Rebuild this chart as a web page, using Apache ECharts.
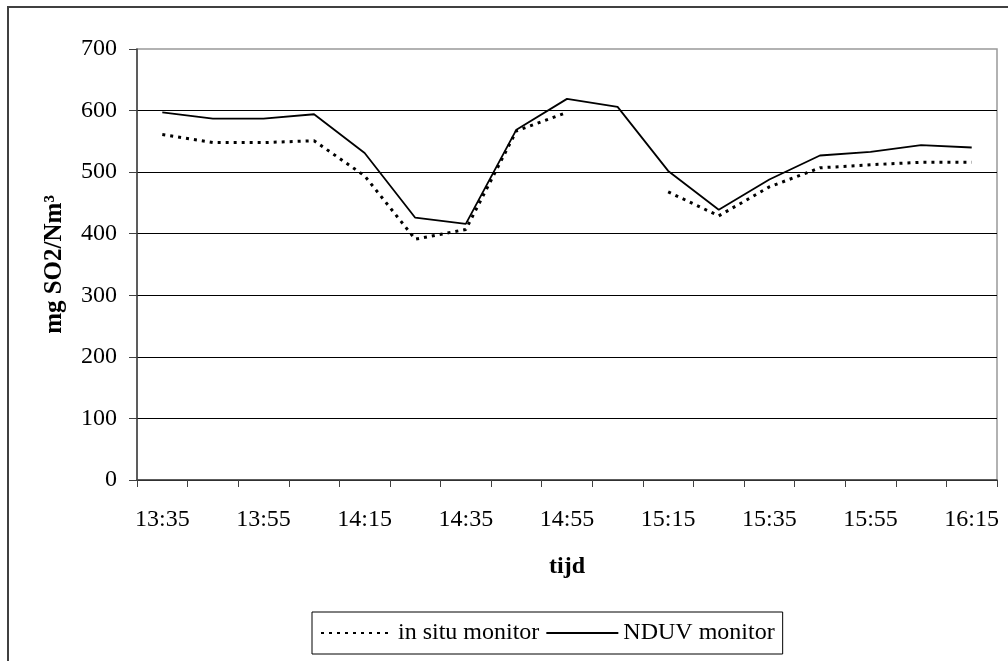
<!DOCTYPE html>
<html>
<head>
<meta charset="utf-8">
<script src="https://cdn.jsdelivr.net/npm/echarts@6/dist/echarts.min.js"></script>
<style>
html,body{margin:0;padding:0;background:#fff;}
#chart{width:1008px;height:661px;}
</style>
</head>
<body>
<div id="chart"></div>
<script>
const categories = ['13:35','13:45','13:55','14:05','14:15','14:25','14:35','14:45','14:55','15:05','15:15','15:25','15:35','15:45','15:55','16:05','16:15'];
const inSitu = [561, 548, 548, 551, 494, 391, 407, 567, 597, null, 468, 429, 476, 507, 512, 516, 516];
const nduv = [597, 587, 587, 594, 531, 426, 416, 569, 619, 606, 502, 439, 488, 527, 533, 544, 540];
const yTicks = [0, 100, 200, 300, 400, 500, 600, 700];

const font = '"Liberation Serif", "Times New Roman", serif';
const chart = echarts.init(document.getElementById('chart'));
chart.setOption({
  animation: false,
  backgroundColor: '#fff',
  graphic: [{
    type: 'rect',
    shape: { x: 8, y: 7, width: 1100, height: 700 },
    style: { fill: 'none', stroke: '#404040', lineWidth: 2 },
    z: -1
  }],
  grid: {
    left: 137, top: 49, right: 11, bottom: 181,
    show: true, borderColor: '#999', borderWidth: 1.5, backgroundColor: 'transparent'
  },
  legend: {
    left: 312, top: 612,
    padding: [9, 8, 9, 8],
    borderColor: '#000', borderWidth: 1,
    itemWidth: 72, itemHeight: 14, itemGap: 6,
    itemStyle: { opacity: 0 },
    textStyle: { fontFamily: font, fontSize: 24, color: '#000' },
    data: ['in situ monitor', 'NDUV monitor']
  },
  xAxis: {
    type: 'category',
    data: categories,
    boundaryGap: true,
    name: 'tijd',
    nameLocation: 'middle',
    nameGap: 75,
    nameTextStyle: { fontFamily: font, fontSize: 24, fontWeight: 'bold', color: '#000' },
    axisLine: { lineStyle: { color: '#404040', width: 1.5 } },
    axisTick: { show: true, interval: 0, length: 7, lineStyle: { color: '#404040' } },
    axisLabel: { interval: 1, margin: 28, fontFamily: font, fontSize: 24, color: '#000' },
    splitLine: { show: false }
  },
  yAxis: {
    type: 'value',
    min: yTicks[0], max: yTicks[yTicks.length - 1], interval: 100,
    name: 'mg SO2/Nm³',
    nameLocation: 'middle',
    nameGap: 70,
    nameTextStyle: { fontFamily: font, fontSize: 25, fontWeight: 'bold', color: '#000' },
    axisLine: { show: true, lineStyle: { color: '#404040', width: 1.5 } },
    axisTick: { show: true, length: 8, lineStyle: { color: '#404040' } },
    axisLabel: { margin: 20, fontFamily: font, fontSize: 24, color: '#000' },
    splitLine: { show: true, showMaxLine: false, lineStyle: { color: '#000', width: 1 } }
  },
  series: [
    {
      name: 'in situ monitor',
      type: 'line',
      data: inSitu,
      symbol: 'none',
      connectNulls: false,
      lineStyle: { color: '#000', width: 3, type: [3, 5] },
      itemStyle: { color: '#000' },
      z: 3
    },
    {
      name: 'NDUV monitor',
      type: 'line',
      data: nduv,
      symbol: 'none',
      lineStyle: { color: '#000', width: 1.8, type: 'solid' },
      itemStyle: { color: '#000' },
      z: 2
    }
  ]
});
</script>
</body>
</html>
